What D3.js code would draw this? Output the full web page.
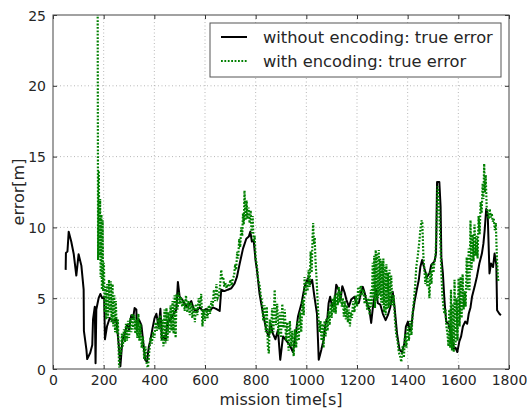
<!DOCTYPE html>
<html>
<head>
<meta charset="utf-8">
<script src="https://cdn.jsdelivr.net/npm/d3@7"></script>
<style>
  body { margin: 0; background: #fff; }
  text { font-family: "DejaVu Sans", sans-serif; fill: #262626; }
</style>
</head>
<body>
<svg id="chart"></svg>
<script>
// tick values and legend labels
var xTicks = [0, 200, 400, 600, 800, 1000, 1200, 1400, 1600, 1800];
var yTicks = [0, 5, 10, 15, 20, 25];
var seriesNames = ['without encoding: true error', 'with encoding: true error'];

// without encoding (black, solid)
var tWithout = [50,51,57,62,72,82,92,101,112,121,122,132,135,147,155,158,165,168,171,180,187,194,202,205,213,224,237,250,260,266,274,283,292,300,309,316,322,329,331,339,349,358,364,371,378,384,392,401,408,417,424,430,438,445,451,460,473,487,493,500,510,520,533,546,556,566,579,592,605,618,631,644,658,664,677,690,704,717,726,737,750,763,773,779,785,792,800,805,815,829,842,851,859,868,878,888,897,908,921,934,947,958,967,981,993,1006,1015,1023,1032,1042,1049,1059,1068,1076,1083,1088,1094,1102,1111,1118,1128,1135,1142,1151,1158,1168,1177,1190,1197,1207,1217,1223,1230,1239,1249,1256,1263,1269,1276,1282,1292,1302,1313,1322,1332,1341,1348,1358,1368,1378,1387,1393,1401,1408,1414,1420,1427,1436,1444,1450,1457,1466,1476,1486,1493,1506,1512,1516,1525,1530,1533,1539,1545,1552,1561,1567,1576,1583,1589,1596,1604,1611,1618,1627,1635,1641,1648,1654,1664,1673,1683,1693,1699,1704,1710,1716,1723,1729,1737,1743,1750,1753,1762,1768];
var errWithout = [7.0,8.2,8.3,9.7,9.0,8.1,6.6,8.1,7.3,5.6,2.7,1.35,0.7,1.15,1.7,3.5,4.4,0.4,4.2,5.0,5.3,5.0,5.1,2.1,3.0,3.6,3.4,3.5,1.6,0.2,2.05,2.5,3.1,2.8,3.8,3.55,4.3,4.2,2.8,3.5,3.1,1.6,0.65,0.5,1.55,2.0,2.8,3.6,3.9,3.0,4.25,2.1,2.35,2.0,3.3,3.4,3.8,4.2,6.15,5.1,4.9,4.6,4.35,4.8,4.2,4.1,4.35,4.1,4.25,4.1,4.35,4.25,4.1,5.6,5.5,5.6,5.7,6.05,6.5,7.45,8.5,9.2,9.35,9.7,9.0,9.1,7.6,7.0,5.35,3.9,2.75,2.3,3.2,2.5,2.1,2.75,0.65,2.3,2.0,1.7,1.2,2.45,3.7,4.65,5.8,6.4,6.0,6.3,5.1,3.9,0.65,1.35,2.05,3.2,3.6,4.65,5.1,4.4,4.65,5.95,5.6,4.9,5.85,5.4,4.9,4.4,4.9,5.1,4.65,4.65,5.45,5.8,5.4,4.65,4.2,3.25,4.4,5.1,5.6,4.65,4.55,3.9,3.45,3.8,4.4,5.45,4.4,2.5,1.35,1.2,1.8,3.0,3.35,2.75,2.85,3.9,4.75,5.6,6.3,7.2,7.7,7.1,6.5,6.75,7.35,7.6,8.15,13.2,13.2,11.45,7.9,6.75,4.9,3.35,3.2,2.75,2.05,1.45,1.5,1.2,1.95,2.3,3.0,3.35,3.2,3.9,4.35,5.1,5.8,6.5,7.45,8.15,8.85,9.8,11.3,10.9,6.75,7.45,7.2,8.15,7.35,4.15,3.9,3.8];

// with encoding (green, dotted)
var tWith = [175,178,181,183,186,188,191,193,196,198,201,204,207,210,214,217,221,224,228,231,235,238,242,245,248,252,256,261,265,268,272,276,280,284,288,292,296,300,305,309,313,317,321,325,329,333,337,341,345,350,355,360,365,370,375,380,385,390,395,400,405,410,415,420,424,428,432,436,440,444,448,452,456,460,464,468,472,476,480,484,488,492,496,500,505,510,515,520,525,530,535,540,545,550,555,560,565,570,575,580,585,590,595,600,605,610,615,620,625,630,635,640,645,650,655,660,664,668,672,676,680,685,690,695,700,705,710,715,719,723,727,731,735,739,743,747,750,753,756,760,764,768,772,776,780,784,788,792,796,800,805,810,815,820,825,830,835,840,844,848,852,856,860,865,870,875,880,885,890,895,900,905,910,915,920,925,930,935,940,945,950,955,960,965,970,975,980,985,990,993,997,1001,1005,1009,1013,1017,1021,1025,1027,1030,1033,1036,1040,1044,1048,1052,1056,1060,1064,1068,1072,1076,1080,1084,1088,1092,1096,1100,1104,1108,1112,1116,1120,1124,1128,1132,1136,1140,1144,1148,1152,1156,1160,1164,1168,1172,1176,1180,1185,1190,1195,1200,1205,1210,1215,1220,1225,1230,1235,1240,1245,1250,1255,1258,1262,1265,1268,1271,1274,1277,1280,1283,1286,1289,1292,1295,1298,1301,1304,1307,1310,1313,1316,1319,1322,1325,1328,1331,1335,1340,1345,1350,1355,1360,1365,1370,1375,1380,1385,1390,1395,1400,1405,1410,1415,1420,1425,1430,1434,1440,1446,1451,1455,1458,1462,1466,1470,1474,1478,1482,1486,1490,1494,1498,1502,1506,1510,1514,1518,1521,1524,1527,1530,1533,1537,1541,1545,1549,1553,1557,1561,1564,1568,1571,1575,1578,1582,1585,1589,1593,1597,1601,1605,1609,1613,1617,1621,1625,1629,1633,1637,1641,1644,1648,1652,1656,1660,1664,1668,1672,1676,1680,1684,1688,1692,1696,1699,1702,1705,1708,1712,1716,1720,1724,1728,1732,1736,1740,1744,1748,1752,1756,1758];
var errWith = [40,7.7,14,8,12,6.5,10.9,5.6,10.5,5.5,7.5,4.0,5.8,3.5,6.0,3.6,6.3,4.0,6.2,3.3,6.0,3.0,5.2,2.6,4.8,2.5,3.5,0.1,1.5,1.0,2.5,1.6,2.8,1.9,3.2,2.0,3.4,2.2,3.6,2.6,3.9,2.8,3.8,2.5,3.5,2.2,3.9,2.0,3.2,1.5,2.3,0.7,1.6,0.3,0.1,1.2,2.2,1.8,2.6,2.2,3.3,2.7,3.6,2.8,3.8,2.0,3.5,1.6,4.2,1.8,4.3,2.0,4.0,2.5,4.5,2.7,4.8,2.5,5.2,2.2,5.3,4.2,5.4,4.6,5.1,4.4,4.9,4.1,5.2,4.0,4.8,3.8,4.7,3.6,4.5,3.3,4.6,3.8,5.0,4.4,5.3,3.0,4.2,3.4,4.3,3.6,4.5,3.9,4.8,4.4,5.6,4.8,6.0,5.0,5.2,6.0,7.0,6.3,6.5,5.8,6.1,5.7,6.0,5.8,6.3,5.9,6.4,6.6,7.4,7.0,8.3,7.8,9.2,8.6,10.0,9.4,11.0,10.2,12.6,10.5,11.9,10.6,11.4,10.3,11.2,9.6,10.8,9.0,9.4,7.8,7.3,6.3,6.0,5.2,4.8,3.4,4.5,2.6,4.4,1.6,1.1,3.5,2.5,4.3,2.6,5.6,3.1,4.6,2.4,4.0,2.2,4.6,2.9,4.2,2.0,3.3,1.3,3.4,1.6,2.7,0.9,2.8,1.5,3.4,2.0,4.0,2.6,4.9,3.8,6.5,5.2,6.2,5.5,7.0,5.8,8.3,6.8,9.5,10.3,8.8,9.3,7.7,6.5,5.0,3.6,2.6,3.4,2.0,3.2,1.5,3.4,2.3,3.6,2.7,4.1,3.1,4.6,3.6,5.0,4.0,5.2,3.9,5.4,4.5,5.8,4.7,5.5,4.4,5.0,3.7,4.8,3.5,4.5,3.3,4.2,3.0,4.0,3.6,4.8,4.0,5.2,4.4,5.8,5.0,5.9,5.2,5.6,4.6,5.2,4.2,5.0,3.8,5.6,4.4,7.5,5.0,8.0,4.3,8.4,4.8,8.2,5.0,8.4,5.2,7.8,4.7,7.6,4.5,7.8,4.0,7.2,3.8,7.4,4.2,6.8,4.3,7.0,4.5,6.6,4.5,5.2,3.4,2.4,2.0,1.2,0.9,0.5,1.6,0.8,2.5,1.5,3.0,2.0,3.4,2.4,4.0,4.9,6.0,7.2,8.0,9.0,10.0,10.5,10.3,8.0,7.0,6.0,6.8,5.8,6.4,5.0,7.0,6.0,7.5,6.8,7.6,8.0,10.0,12.9,12.3,11.5,10.0,8.5,6.8,5.2,4.4,3.9,4.2,3.0,2.5,1.6,4.2,1.5,5.6,1.3,4.6,1.2,6.3,1.7,5.0,2.0,6.4,3.0,6.5,3.6,6.7,4.2,5.5,4.4,7.9,5.6,8.5,5.5,10.5,7.0,9.5,7.6,10.2,8.0,9.4,7.8,10.8,9.5,11.8,11.0,13.1,12.0,14.5,12.5,13.7,11.4,11.0,10.6,11.3,10.7,11.0,10.4,10.6,9.8,10.3,8.0,6.5,6.2];

var W = 527, H = 409;
var margin = {top: 15, right: 18, bottom: 40, left: 53};
var w = W - margin.left - margin.right;
var h = H - margin.top - margin.bottom;

var svg = d3.select('#chart').attr('width', W).attr('height', H);
var g = svg.append('g').attr('transform', 'translate(' + margin.left + ',' + margin.top + ')');

var x = d3.scaleLinear().domain([0, 1800]).range([0, w]);
var y = d3.scaleLinear().domain([0, 25]).range([h, 0]);

// grid
g.selectAll('.vgrid').data(xTicks.slice(1, -1)).enter().append('line')
  .attr('x1', function(d) { return x(d); }).attr('x2', function(d) { return x(d); })
  .attr('y1', 0).attr('y2', h)
  .attr('stroke', '#999').attr('stroke-width', 0.7).attr('stroke-dasharray', '1,2.5');
g.selectAll('.hgrid').data(yTicks.slice(1, -1)).enter().append('line')
  .attr('y1', function(d) { return y(d); }).attr('y2', function(d) { return y(d); })
  .attr('x1', 0).attr('x2', w)
  .attr('stroke', '#999').attr('stroke-width', 0.7).attr('stroke-dasharray', '1,2.5');

g.append('clipPath').attr('id', 'clip').append('rect').attr('width', w).attr('height', h);

var line = d3.line()
  .x(function(d) { return x(d[0]); })
  .y(function(d) { return y(d[1]); });

var withData = tWith.map(function(t, i) { return [t, errWith[i]]; });
var withoutData = tWithout.map(function(t, i) { return [t, errWithout[i]]; });

var plot = g.append('g').attr('clip-path', 'url(#clip)');
plot.append('path').datum(withoutData)
  .attr('d', line).attr('fill', 'none')
  .attr('stroke', '#000').attr('stroke-width', 2).attr('stroke-linejoin', 'round');
plot.append('path').datum(withData)
  .attr('d', line).attr('fill', 'none')
  .attr('stroke', '#008000').attr('stroke-width', 2.2).attr('stroke-dasharray', '1.8,1.6');

// axes, ticks inside on all four sides
var fmt = d3.format('d');
var xAxis = d3.axisBottom(x).tickValues(xTicks).tickSize(-4).tickPadding(6).tickFormat(fmt);
var yAxis = d3.axisLeft(y).tickValues(yTicks).tickSize(-4).tickPadding(7).tickFormat(fmt);
var xa = g.append('g').attr('transform', 'translate(0,' + h + ')').call(xAxis);
var ya = g.append('g').call(yAxis);
g.append('g').call(d3.axisTop(x).tickValues(xTicks).tickSize(-4).tickFormat(''));
g.append('g').attr('transform', 'translate(' + w + ',0)')
  .call(d3.axisRight(y).tickValues(yTicks).tickSize(-4).tickFormat(''));
g.selectAll('.domain').remove();
g.selectAll('.tick line').attr('stroke', '#333');
xa.selectAll('text').style('font-size', '14px').attr('fill', '#262626');
ya.selectAll('text').style('font-size', '14px').attr('fill', '#262626').attr('dy', '0.36em');

g.append('rect').attr('width', w).attr('height', h)
  .attr('fill', 'none').attr('stroke', '#444').attr('stroke-width', 1);

// axis labels
svg.append('text').attr('x', margin.left + w / 2).attr('y', 405)
  .attr('text-anchor', 'middle').style('font-size', '16px').text('mission time[s]');
svg.append('text').attr('transform', 'translate(24,' + (margin.top + h / 2) + ') rotate(-90)')
  .attr('text-anchor', 'middle').style('font-size', '16px').text('error[m]');

// legend
var lg = svg.append('g').attr('transform', 'translate(210,23)');
lg.append('rect').attr('width', 291).attr('height', 54)
  .attr('fill', '#fff').attr('stroke', '#555').attr('stroke-width', 1);
var items = lg.selectAll('.item').data(seriesNames).enter().append('g')
  .attr('transform', function(d, i) { return 'translate(0,' + (14 + i * 24) + ')'; });
items.append('line').attr('x1', 11).attr('x2', 37).attr('y1', 0).attr('y2', 0)
  .attr('stroke', function(d, i) { return i ? '#008000' : '#000'; })
  .attr('stroke-width', function(d, i) { return i ? 2.2 : 2; })
  .attr('stroke-dasharray', function(d, i) { return i ? '1.8,1.6' : null; });
items.append('text').attr('x', 53).attr('y', 0).attr('dy', '0.35em')
  .style('font-size', '16.3px').text(function(d) { return d; });
</script>
</body>
</html>
